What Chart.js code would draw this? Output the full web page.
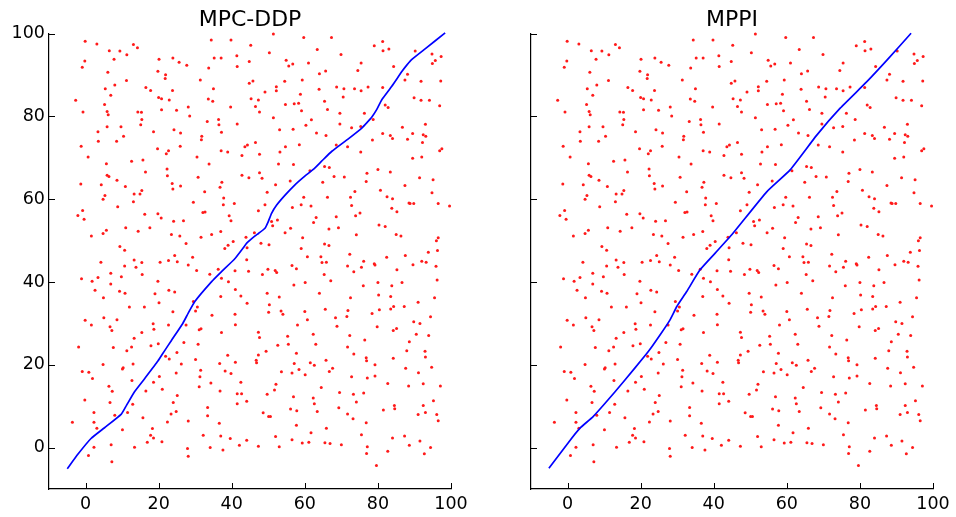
<!DOCTYPE html>
<html>
<head>
<meta charset="utf-8">
<script src="https://cdn.jsdelivr.net/npm/chart.js@4.4.1/dist/chart.umd.min.js"></script>
<style>
  html, body { margin: 0; padding: 0; background: #fff; }
  body { width: 956px; height: 517px; position: relative; overflow: hidden; }
  .panel { position: absolute; top: 0; width: 478px; height: 517px; }
  #left { left: 0; }
  #right { left: 478px; }
</style>
</head>
<body>
<div class="panel" id="left"><canvas id="c-ddp"></canvas></div>
<div class="panel" id="right"><canvas id="c-mppi"></canvas></div>
<script>
"use strict";

const TITLES = ["MPC-DDP", "MPPI"];
const X_TICKS = [0, 20, 40, 60, 80, 100];
const Y_TICKS = [0, 20, 40, 60, 80, 100];
const AXIS_MIN = -10;
const AXIS_MAX = 100;

// obstacle points (same set in both panels), [x, y]
const OBSTACLES = [
  [-0.1,98.2],[3.1,97.5],[6.5,95.9],[9.4,95.8],[13.1,97.4],[14.2,96.6],[11.3,94.9],[7.8,93.8],[-0.2,93.4],[-0.9,91.9],
  [6.1,90.7],[11.2,88.7],[8.0,87.6],[5.4,86.7],[6.9,85.1],[-2.7,83.9],[5.2,82.9],[-0.7,81.1],[5.9,81.2],[6.2,80.4],
  [14.3,81.1],[15.3,81.0],[15.4,79.3],[15.1,78.0],[5.9,77.5],[9.7,77.5],[3.4,76.3],[10.4,75.2],[3.5,74.0],[8.5,74.0],
  [-1.2,72.8],[0.7,70.2],[5.7,68.6],[12.6,69.2],[15.7,69.5],[16.4,66.6],
  [20.1,93.8],[23.9,94.1],[25.6,93.1],[27.7,92.4],[19.8,90.9],[21.9,90.1],[21.8,89.2],[16.5,87.0],[17.8,86.3],[23.8,86.3],
  [20.0,84.6],[20.8,84.3],[22.9,84.0],[20.8,81.6],[24.9,81.5],[28.1,82.3],[28.5,80.1],[24.2,76.8],[26.0,76.0],[18.6,76.3],
  [19.7,72.2],[22.7,71.7],[22.1,71.0],[25.9,72.8],[22.3,67.3],[30.5,70.2],[33.8,68.5],
  [34.4,98.5],[39.8,98.5],[45.2,97.2],[41.4,94.7],[35.2,94.1],[37.1,94.1],[44.8,93.3],[33.7,91.7],[41.5,92.1],[31.4,88.8],
  [45.8,88.6],[44.8,88.0],[35.0,86.7],[33.6,84.2],[34.8,83.7],[45.3,84.3],[39.7,82.3],[33.3,78.8],[36.4,79.3],[36.5,78.0],
  [37.2,76.2],[41.5,78.2],[31.8,75.2],[31.7,74.4],[44.3,73.1],[43.6,72.7],[37.1,71.7],[38.9,71.4],[42.8,70.6],
  [51.4,99.9],[59.7,99.1],[67.3,99.1],[50.3,95.4],[63.4,96.2],[69.9,95.0],[79.0,97.1],[81.3,98.1],[81.4,95.9],[83.0,96.3],
  [54.9,93.6],[55.6,92.2],[56.7,92.7],[61.0,92.9],[65.7,91.0],[64.0,90.3],[75.4,92.9],[74.5,91.1],[84.3,92.1],[90.2,95.8],
  [94.8,95.1],[97.3,94.5],[95.7,93.5],[94.9,92.8],[88.1,90.2],[87.4,88.8],[91.8,88.5],[97.2,88.6],[54.5,88.5],[59.3,88.8],
  [52.2,87.2],[52.2,86.2],[49.1,85.9],[63.9,86.6],[68.7,87.1],[70.7,86.7],[73.6,86.7],[75.4,86.2],[77.3,87.1],[81.3,87.0],
  [47.3,84.0],[46.5,82.4],[47.6,81.1],[54.7,82.9],[57.1,83.1],[58.3,83.2],[58.8,85.4],[59.1,81.4],[65.4,83.7],[66.2,81.7],
  [70.5,84.7],[69.6,80.8],[69.6,78.2],[61.8,79.2],[60.3,77.9],[51.4,79.7],[53.1,76.8],[56.8,76.9],[46.5,73.7],[54.7,72.7],
  [58.5,73.2],[63.2,76.0],[65.8,75.4],[68.6,73.1],[71.7,72.7],[72.8,77.3],[75.3,77.6],[76.3,80.8],[78.7,79.3],[82.0,82.8],
  [82.8,82.2],[89.9,84.5],[91.8,83.9],[94.1,83.9],[96.9,82.6],[86.7,77.4],[93.0,78.1],[89.5,75.9],[88.1,74.5],[92.4,75.6],
  [93.1,75.2],[92.2,73.7],[81.3,75.9],[83.4,75.4],[84.0,74.7],[78.5,74.3],[75.3,71.4],[47.6,70.9],[53.2,71.4],[52.8,68.5],
  [56.9,68.4],[47.6,66.4],[65.4,67.9],[66.7,67.7],[61.4,66.9],[77.0,66.3],[80.0,67.2],[83.4,66.6],[89.5,69.9],[92.0,70.2],
  [96.9,71.7],[97.5,72.2],
  [5.9,65.8],[6.4,65.5],[8.6,64.6],[-1.3,63.7],[4.3,63.5],[10.9,63.1],[22.4,65.7],[23.7,63.8],[23.9,62.5],[26.0,63.2],
  [30.8,65.3],[37.3,64.1],[36.8,62.9],[42.8,65.8],[44.7,65.2],[15.4,62.1],[14.9,61.3],[13.3,61.3],[5.3,60.9],[4.8,60.0],
  [13.1,59.4],[8.8,58.2],[-0.8,57.3],[-2.1,56.1],[-0.4,55.2],[32.6,61.8],[29.5,59.3],[37.8,60.3],[37.7,58.7],[40.7,59.0],
  [32.1,56.8],[32.7,56.9],[39.3,56.0],[39.8,54.8],[16.2,56.4],[19.8,56.5],[20.7,55.5],[24.1,54.7],[26.8,54.8],[11.0,53.1],
  [14.4,52.3],[17.6,53.1],[5.7,52.5],[4.8,51.7],[1.6,51.1],[23.5,51.5],[25.8,51.1],[31.6,50.8],[34.5,51.5],[37.0,52.2],
  [43.9,50.8],[46.2,51.9],[40.4,49.8],[39.0,48.9],[38.1,48.1],[44.2,48.3],[27.5,49.3],[9.4,48.6],[10.7,47.7],[24.4,46.4],
  [22.7,45.2],[25.1,44.9],[29.3,46.0],[28.1,44.1],[30.4,42.8],[13.3,45.3],[15.4,44.7],[13.8,43.6],[10.7,43.9],[4.2,44.8],
  [20.4,44.8],[44.1,45.4],[44.6,42.6],[40.9,42.7],[34.0,41.9],[36.3,43.1],[37.2,40.9],[39.1,40.1],[6.9,42.1],[3.4,41.1],
  [9.8,41.3],[15.5,41.8],[-1.1,40.8],[1.8,40.2],[6.9,39.5],[19.8,40.2],[2.6,38.0],[9.3,37.8],[10.8,37.3],[22.8,38.0],
  [24.4,37.6],[19.0,37.2],[4.9,36.2],[20.1,35.0],[12.0,34.0],[16.1,34.0],[29.5,35.3],[30.6,34.0],[30.1,33.0],[23.9,32.8],
  [41.0,38.2],[42.5,36.6],[44.2,34.9],[37.0,36.5],[34.6,32.0],[40.9,32.2],[5.0,31.4],[8.6,30.9],[-0.1,30.8],
  [48.3,65.1],[52.0,63.5],[56.0,64.4],[64.9,64.1],[68.0,65.5],[70.8,65.4],[76.8,64.3],[91.4,65.2],[95.1,64.7],[49.7,61.7],
  [49.1,58.7],[47.3,57.2],[59.7,60.5],[59.0,58.7],[56.6,58.0],[61.7,58.4],[66.2,60.5],[73.7,61.9],[72.5,60.5],[72.8,58.5],
  [80.7,62.2],[87.4,63.3],[94.8,61.6],[82.5,60.6],[84.0,60.1],[88.5,59.1],[88.8,59.0],[89.8,59.0],[96.5,59.0],[99.6,58.4],
  [83.8,57.8],[85.2,57.0],[75.1,56.7],[73.9,56.0],[68.6,55.8],[63.1,55.6],[62.4,54.4],[52.5,55.0],[50.9,54.6],[51.2,53.6],
  [56.1,53.0],[54.6,51.9],[66.6,52.8],[69.2,53.1],[80.3,53.8],[82.0,53.4],[74.1,51.4],[85.0,51.5],[86.3,51.1],[96.5,50.7],
  [96.0,50.0],[59.4,50.7],[48.0,49.4],[50.2,49.0],[65.4,49.2],[66.6,48.8],[59.0,48.1],[60.7,46.1],[64.4,46.1],[72.3,46.7],
  [64.7,44.7],[65.9,44.8],[76.1,45.0],[79.0,44.4],[79.2,44.1],[82.4,46.0],[87.5,46.4],[93.8,47.2],[96.3,47.6],[92.0,45.0],
  [93.2,44.8],[89.6,44.2],[95.9,43.8],[56.5,44.0],[57.7,43.2],[49.9,43.1],[51.9,42.8],[52.3,42.3],[48.4,41.8],[71.7,43.9],
  [75.5,43.6],[73.4,42.5],[85.2,43.0],[65.3,41.8],[67.1,40.3],[60.1,39.9],[57.0,39.3],[76.0,39.1],[80.0,39.9],[83.8,39.1],
  [86.6,39.9],[96.2,40.5],[49.7,37.3],[53.0,36.4],[64.0,37.3],[72.5,36.2],[80.2,36.9],[83.5,36.5],[95.5,36.2],[91.0,35.1],
  [50.3,34.5],[50.1,32.7],[53.5,33.0],[54.0,32.2],[60.0,32.9],[65.6,33.4],[71.8,33.1],[71.5,31.7],[68.4,31.4],[60.7,30.9],
  [78.4,32.4],[80.4,33.3],[83.5,33.5],[84.3,34.1],[87.2,34.1],[94.4,31.6],
  [1.6,29.6],[6.7,29.2],[7.2,28.3],[18.5,29.9],[18.7,28.6],[22.7,29.6],[27.5,29.6],[31.1,28.5],[31.6,28.7],[37.2,27.8],
  [41.0,29.7],[15.4,27.8],[13.3,26.4],[-1.9,24.3],[7.6,24.2],[12.6,24.3],[11.3,23.4],[17.9,24.6],[19.9,25.1],[26.9,25.4],
  [30.8,25.0],[25.0,23.0],[21.9,22.1],[22.9,21.4],[26.2,20.2],[30.1,21.3],[38.9,22.3],[36.7,20.3],[41.0,20.6],[4.8,20.1],
  [13.0,20.2],[10.3,19.3],[10.1,19.0],[-0.9,18.4],[0.9,18.2],[1.9,16.7],[20.2,17.2],[18.6,15.8],[24.8,18.0],[31.5,18.7],
  [31.3,17.1],[38.2,18.5],[39.8,17.9],[34.3,15.6],[31.1,14.7],[42.5,15.8],[6.4,14.8],[7.3,13.6],[12.7,16.2],[16.5,13.7],
  [21.0,14.1],[25.1,12.6],[36.8,13.7],[41.5,13.0],[42.7,13.0],[44.1,11.2],[41.5,10.6],[-0.2,11.5],[6.7,10.9],[12.9,10.5],
  [24.0,10.9],[11.5,8.5],[8.0,7.8],[2.3,8.5],[23.4,8.1],[24.8,8.7],[33.4,9.7],[33.4,7.7],[15.7,7.2],[22.4,6.2],
  [28.1,6.4],[36.6,5.9],[-3.6,6.1],[2.3,6.1],[3.1,4.7],[10.1,4.3],[18.3,4.6],[17.8,3.0],[18.6,2.3],[16.9,1.3],
  [20.9,1.4],[32.2,3.0],[37.0,2.8],[39.6,2.2],[44.1,1.8],[42.1,0.6],[2.3,0.1],[7.0,0.7],[13.4,0.1],[27.9,-0.2],
  [34.1,0.0],[37.6,-0.6],[0.8,-1.9],[7.2,-3.4],[28.1,-2.1],
  [58.0,29.6],[68.8,29.3],[79.8,29.2],[84.2,28.3],[85.1,28.8],[89.8,30.4],[91.5,30.0],[47.3,27.9],[47.6,26.6],[55.3,26.9],
  [62.3,27.4],[72.3,27.1],[76.4,26.0],[90.5,27.4],[93.9,27.1],[52.6,24.7],[55.5,25.0],[63.0,25.0],[71.7,24.3],[88.6,25.6],
  [87.9,23.4],[49.4,23.3],[47.3,22.4],[46.7,21.1],[46.8,20.5],[57.7,22.8],[73.4,22.6],[76.8,21.7],[76.9,21.0],[84.2,21.6],
  [92.9,23.3],[93.0,21.9],[57.1,20.3],[61.5,20.5],[62.6,19.9],[65.8,21.1],[67.6,19.2],[66.7,18.4],[79.2,20.0],[87.6,19.2],
  [94.7,19.4],[53.6,18.3],[56.5,18.0],[58.4,18.9],[60.1,17.6],[72.8,17.1],[77.1,16.8],[79.2,17.3],[91.1,18.1],[82.7,15.5],
  [88.4,14.9],[92.4,15.4],[97.1,14.9],[52.1,15.3],[51.7,13.9],[49.7,12.9],[64.5,14.5],[69.5,13.3],[73.3,12.9],[76.1,13.2],
  [56.9,12.3],[62.3,12.0],[62.6,10.6],[74.1,11.0],[95.2,11.3],[92.4,10.2],[84.5,10.2],[84.6,9.4],[81.5,9.1],[56.1,9.3],
  [57.8,8.9],[63.4,8.7],[69.3,9.6],[71.7,8.1],[48.6,8.4],[50.1,7.5],[50.6,7.5],[73.2,7.0],[91.0,8.0],[93.0,8.5],
  [96.1,8.0],[96.5,6.5],[76.8,6.0],[57.7,5.4],[65.9,4.7],[61.7,3.6],[52.0,2.7],[75.5,3.1],[84.0,2.3],[87.3,2.8],
  [91.5,1.6],[56.5,1.9],[59.3,1.1],[61.1,1.3],[65.5,1.2],[66.9,1.0],[70.0,0.7],[47.3,0.3],[53.0,0.2],[77.1,0.2],
  [88.6,0.6],[94.4,0.0],[82.7,-0.9],[76.9,-1.4],[92.7,-1.5],[79.6,-4.3]
];

// MPC-DDP trajectory
const DDP_X = [-5.0, -2.0, 1.5, 5.2, 9.8, 11.2, 13.4, 16.2, 19.8, 21.7, 23.5, 26.6, 28.1, 29.9, 34.5, 37.2, 40.9, 43.1, 44.1, 46.3,
  47.4, 49.1, 50.0, 50.9, 52.3, 54.6, 57.3, 60.0, 62.3, 64.6, 67.4, 71.9, 75.6, 77.0, 78.3, 79.7, 81.1, 83.8, 86.6, 87.9,
  89.3, 93.0, 98.4];
const DDP_Y = [-5.1, -1.5, 2.2, 4.8, 8.1, 10.2, 13.5, 16.7, 20.9, 23.5, 25.9, 30.0, 32.5, 35.3, 40.1, 42.5, 45.7, 48.2, 49.4, 51.1,
  51.8, 53.0, 54.6, 56.6, 58.6, 61.0, 63.5, 65.6, 67.2, 69.2, 71.6, 74.6, 77.2, 78.5, 79.8, 81.7, 84.1, 87.3, 90.9, 92.4,
  93.8, 96.4, 100.2];

// MPPI trajectory
const MPPI_X = [-5.1, 0.2, 3.4, 7.0, 13.0, 18.4, 22.1, 25.3, 28.0, 29.9, 32.6, 36.2, 40.4, 45.1, 54.5, 60.9, 68.2, 74.6, 81.9, 87.4, 94.0];
const MPPI_Y = [-5.0, 1.2, 4.7, 7.5, 13.5, 19.2, 23.2, 27.2, 30.8, 34.1, 37.7, 42.9, 47.0, 51.6, 61.8, 67.1, 75.5, 82.0, 88.4, 93.6, 100.1];

const FONT = "'DejaVu Sans', 'Liberation Sans', sans-serif";

const titlePlugin = {
  id: "panelTitle",
  afterDraw(c, args, opts) {
    const { ctx, chartArea } = c;
    ctx.save();
    ctx.font = `22px ${FONT}`;
    ctx.fillStyle = "#000";
    ctx.textAlign = "center";
    ctx.textBaseline = "alphabetic";
    ctx.fillText(opts.text, (chartArea.left + chartArea.right) / 2, 26);
    ctx.restore();
  },
};

// matplotlib-style inward tick marks
const tickMarkPlugin = {
  id: "tickMarks",
  afterDraw(c) {
    const { ctx, chartArea, scales } = c;
    ctx.save();
    ctx.strokeStyle = "#000";
    ctx.lineWidth = 1;
    ctx.beginPath();
    X_TICKS.forEach((v) => {
      const x = Math.round(scales.x.getPixelForValue(v)) + 0.5;
      ctx.moveTo(x, chartArea.bottom);
      ctx.lineTo(x, chartArea.bottom - 6);
    });
    Y_TICKS.forEach((v) => {
      const y = Math.round(scales.y.getPixelForValue(v)) + 0.5;
      ctx.moveTo(chartArea.left, y);
      ctx.lineTo(chartArea.left + 6, y);
    });
    ctx.stroke();
    ctx.restore();
  },
};

function pts(xs, ys) {
  return xs.map((x, i) => ({ x, y: ys[i] }));
}

function makePanel(canvasId, title, pathX, pathY, showYLabels, yWidth, padRight) {
  return new Chart(document.getElementById(canvasId), {
    type: "scatter",
    data: {
      datasets: [
        {
          label: "path",
          data: pts(pathX, pathY),
          showLine: true,
          borderColor: "#0000ff",
          borderWidth: 1.7,
          pointRadius: 0,
          tension: 0.15,
          fill: false,
          order: 0,
        },
        {
          label: "obstacles",
          data: OBSTACLES.map(([x, y]) => ({ x, y })),
          pointRadius: 1.5,
          pointBorderWidth: 0,
          pointBackgroundColor: "#ff1a1a",
          order: 1,
        },
      ],
    },
    options: {
      responsive: true,
      maintainAspectRatio: false,
      animation: false,
      events: [],
      clip: false,
      layout: { padding: { top: 33.7, right: padRight, bottom: 0, left: 0 } },
      scales: {
        x: {
          type: "linear",
          min: AXIS_MIN,
          max: AXIS_MAX,
          afterBuildTicks: (s) => { s.ticks = X_TICKS.map((v) => ({ value: v })); },
          afterFit: (s) => { s.height = 28; },
          grid: { display: false, drawTicks: false },
          border: { display: true, color: "#000", width: 1.2 },
          ticks: {
            color: "#000",
            font: { family: FONT, size: 17.5 },
            padding: 5,
            maxRotation: 0,
            autoSkip: false,
            callback: (v) => String(v),
          },
        },
        y: {
          type: "linear",
          min: AXIS_MIN,
          max: AXIS_MAX,
          afterBuildTicks: (s) => { s.ticks = Y_TICKS.map((v) => ({ value: v })); },
          afterFit: (s) => { s.width = yWidth; },
          grid: { display: false, drawTicks: false },
          border: { display: true, color: "#000", width: 1.2 },
          ticks: {
            display: showYLabels,
            color: "#000",
            font: { family: FONT, size: 17.5 },
            padding: 4,
            autoSkip: false,
            callback: (v) => String(v),
          },
        },
      },
      plugins: {
        legend: { display: false },
        tooltip: { enabled: false },
        panelTitle: { text: title },
      },
    },
    plugins: [titlePlugin, tickMarkPlugin],
  });
}

makePanel("c-ddp", TITLES[0], DDP_X, DDP_Y, true, 49, 27);
makePanel("c-mppi", TITLES[1], MPPI_X, MPPI_Y, false, 53, 23);
</script>
</body>
</html>
